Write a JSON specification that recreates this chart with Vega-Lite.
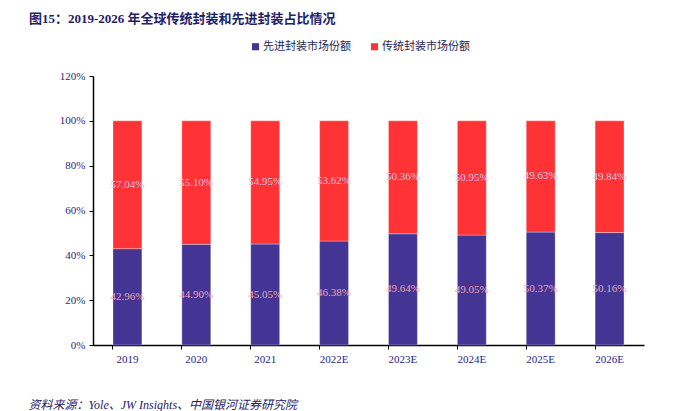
{
  "$schema": "https://vega.github.io/schema/vega-lite/v6.json",
  "width": 551,
  "height": 269,
  "autosize": {"type": "none"},
  "padding": {"left": 93, "top": 76, "right": 42, "bottom": 66},
  "background": "white",
  "config": {
    "font": "Liberation Serif, Noto Sans CJK SC",
    "view": {"stroke": null}
  },
  "title": {
    "text": "图15：2019-2026 年全球传统封装和先进封装占比情况",
    "anchor": "start",
    "dx": 1,
    "offset": 15,
    "fontSize": 13,
    "fontWeight": "bold",
    "color": "#1F2266",
    "font": "Liberation Serif, Noto Sans CJK SC"
  },
  "data": {
    "values": [
      {"year": "2019", "type": "先进封装市场份额", "value": 0.4296},
      {"year": "2019", "type": "传统封装市场份额", "value": 0.5704},
      {"year": "2020", "type": "先进封装市场份额", "value": 0.4490},
      {"year": "2020", "type": "传统封装市场份额", "value": 0.5510},
      {"year": "2021", "type": "先进封装市场份额", "value": 0.4505},
      {"year": "2021", "type": "传统封装市场份额", "value": 0.5495},
      {"year": "2022E", "type": "先进封装市场份额", "value": 0.4638},
      {"year": "2022E", "type": "传统封装市场份额", "value": 0.5362},
      {"year": "2023E", "type": "先进封装市场份额", "value": 0.4964},
      {"year": "2023E", "type": "传统封装市场份额", "value": 0.5036},
      {"year": "2024E", "type": "先进封装市场份额", "value": 0.4905},
      {"year": "2024E", "type": "传统封装市场份额", "value": 0.5095},
      {"year": "2025E", "type": "先进封装市场份额", "value": 0.5037},
      {"year": "2025E", "type": "传统封装市场份额", "value": 0.4963},
      {"year": "2026E", "type": "先进封装市场份额", "value": 0.5016},
      {"year": "2026E", "type": "传统封装市场份额", "value": 0.4984}
    ]
  },
  "transform": [
    {"stack": "value", "groupby": ["year"], "sort": [{"field": "type", "order": "descending"}], "as": ["v0", "v1"]},
    {"calculate": "(datum.v0 + datum.v1) / 2", "as": "mid"}
  ],
  "encoding": {
    "x": {
      "field": "year",
      "type": "ordinal",
      "sort": null,
      "scale": {"paddingInner": 0.58, "paddingOuter": 0.29},
      "axis": {
        "title": "资料来源：Yole、JW Insights、中国银河证券研究院",
        "titleAnchor": "start",
        "titleAlign": "left",
        "titleX": -65,
        "titleY": 59,
        "titleBaseline": "middle",
        "titleFontStyle": "italic",
        "titleFontWeight": "normal",
        "titleFontSize": 12,
        "titleColor": "#1F2266",
        "titleFont": "Liberation Serif, Noto Sans CJK SC",
        "labelAngle": 0,
        "labelColor": "#1F1F80",
        "labelFontSize": 11,
        "labelPadding": 4,
        "domainColor": "#000000",
        "domainWidth": 1.5,
        "tickColor": "#000000",
        "tickSize": 4,
        "bandPosition": 0
      }
    }
  },
  "layer": [
    {
      "mark": {"type": "bar", "stroke": "#ffffff", "strokeOpacity": 0.4, "strokeWidth": 0.8},
      "encoding": {
        "y": {
          "field": "v0",
          "type": "quantitative",
          "scale": {"domain": [0, 1.2], "nice": false},
          "axis": {
            "title": null,
            "format": ".0%",
            "values": [0, 0.2, 0.4, 0.6, 0.8, 1.0, 1.2],
            "grid": false,
            "labelColor": "#1F1F80",
            "labelFontSize": 11,
            "labelPadding": 4,
            "domainColor": "#000000",
            "domainWidth": 1.5,
            "tickColor": "#000000",
            "tickSize": 4
          }
        },
        "y2": {"field": "v1"},
        "color": {
          "field": "type",
          "type": "nominal",
          "scale": {"domain": ["先进封装市场份额", "传统封装市场份额"], "range": ["#443493", "#FF3336"]},
          "legend": {
            "title": null,
            "orient": "none",
            "direction": "horizontal",
            "legendX": 157,
            "legendY": -35,
            "symbolType": "square",
            "symbolSize": 50,
            "symbolStrokeWidth": 0,
            "labelFontSize": 11,
            "labelColor": "#1F1F50",
            "labelFont": "Noto Sans CJK SC",
            "columnPadding": 18,
            "labelOffset": 2
          }
        }
      }
    },
    {
      "mark": {"type": "text", "fontSize": 11, "baseline": "middle"},
      "encoding": {
        "y": {"field": "mid", "type": "quantitative"},
        "text": {"field": "value", "type": "quantitative", "format": ".2%"},
        "color": {
          "field": "type",
          "type": "nominal",
          "scale": {"domain": ["先进封装市场份额", "传统封装市场份额"], "range": ["#F2A2AE", "#C6C6EC"]},
          "legend": null
        }
      }
    }
  ],
  "resolve": {"scale": {"color": "independent"}}
}
